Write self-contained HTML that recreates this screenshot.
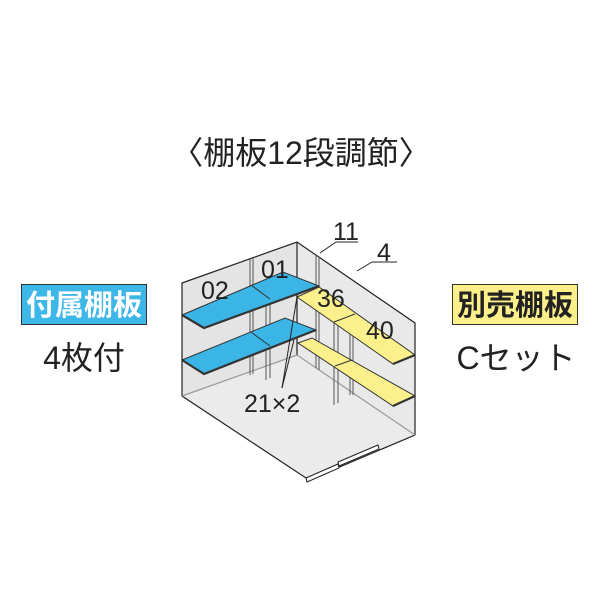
<!DOCTYPE html>
<html><head><meta charset="utf-8"><style>
html,body{margin:0;padding:0;background:#fff;}
body{width:600px;height:600px;position:relative;overflow:hidden;font-family:"Liberation Sans","Noto Sans CJK JP",sans-serif;}
</style></head><body>
<svg width="600" height="600" viewBox="0 0 600 600" xmlns="http://www.w3.org/2000/svg" style="position:absolute;left:0;top:0">
<text x="301" y="164" text-anchor="middle" font-size="32" fill="#222" font-family="Liberation Sans, Noto Sans CJK JP, sans-serif">〈棚板12段調節〉</text>

<rect x="21.5" y="284.5" width="125" height="40" fill="#3db6e8" stroke="#333" stroke-width="1"/>
<text x="84" y="315" text-anchor="middle" font-size="29" fill="#fff" font-weight="bold" font-family="Liberation Sans, Noto Sans CJK JP, sans-serif">付属棚板</text>
<text x="84" y="369" text-anchor="middle" font-size="32" fill="#222" font-family="Liberation Sans, Noto Sans CJK JP, sans-serif">4枚付</text>

<rect x="452.5" y="284.5" width="125" height="40" fill="#fdf08a" stroke="#333" stroke-width="1"/>
<text x="515" y="315" text-anchor="middle" font-size="29" fill="#222" font-weight="bold" font-family="Liberation Sans, Noto Sans CJK JP, sans-serif">別売棚板</text>
<text x="516" y="369" text-anchor="middle" font-size="32" fill="#222" font-family="Liberation Sans, Noto Sans CJK JP, sans-serif">Cセット</text>

<polygon points="182,283 297,242 297,355 182,396" fill="#e4e4e4"/>
<polygon points="297,242 415,323 415,435 297,355" fill="#e9e9e9"/>
<polygon points="182,396 297,355 415,435 309,480" fill="#ebebeb"/>
<g stroke="#222" stroke-width="1.2" fill="none">
<polygon points="182,283 297,242 415,323 415,435 309,480 182,396"/>
<line x1="297" y1="242" x2="297" y2="355"/>
<line x1="297" y1="355" x2="182" y2="396" stroke="#999"/>
<line x1="297" y1="355" x2="415" y2="435" stroke="#999"/>
</g>
<g stroke="#222" stroke-width="1" fill="#fff">
<polygon points="306,478 338,464 339,468 307,482"/>
<polygon points="338,462 378,445 379,449 339,466"/>
</g>
<g stroke="#555" stroke-width="1" fill="none">
<line x1="250" y1="259" x2="250" y2="375"/><line x1="253" y1="258" x2="253" y2="374"/>
<line x1="270" y1="300" x2="270" y2="378"/><line x1="266" y1="300" x2="266" y2="380"/>
<line x1="316" y1="255" x2="316" y2="368"/><line x1="319" y1="257" x2="319" y2="370"/>
<line x1="334" y1="322" x2="334" y2="405"/><line x1="338" y1="322" x2="338" y2="403"/>
<line x1="350" y1="330" x2="350" y2="395"/><line x1="353" y1="332" x2="353" y2="395"/>
</g>
<g stroke="#333" stroke-width="1">
<polygon points="182,315 283,272 319,286 204,328" fill="#3bb5e6"/>
<polyline points="182,315 204,328 319,286" fill="none" stroke-width="2.2"/>
<line x1="251" y1="285" x2="270" y2="299"/>
<polygon points="182,360 285,318 316,330 204,374" fill="#3bb5e6"/>
<polyline points="182,360 204,374 316,330" fill="none" stroke-width="2.2"/>
<line x1="251" y1="332" x2="270" y2="346"/>
<polygon points="297,297 319,287 415,355 393,364" fill="#fbf08c"/>
<polyline points="393,364 415,355" fill="none" stroke-width="2.2"/>
<line x1="334" y1="322" x2="355" y2="314"/>
<polygon points="298,343 312,338 415,396 393,406" fill="#fbf08c"/>
<polyline points="393,406 415,396" fill="none" stroke-width="2.2"/>
<line x1="335" y1="366" x2="352" y2="360"/>
</g>
<g stroke="#222" stroke-width="1" fill="none">
<line x1="282" y1="388" x2="297" y2="297"/>
<line x1="282" y1="388" x2="294" y2="340"/>
<line x1="320" y1="253" x2="336" y2="242"/><line x1="336" y1="242" x2="358" y2="242"/>
<line x1="357" y1="271" x2="372" y2="262"/><line x1="372" y1="262" x2="397" y2="262"/>
</g>
<g font-size="25" fill="#222" font-family="Liberation Sans, sans-serif">
<text x="201" y="299">02</text>
<text x="261" y="278">01</text>
<text x="317" y="307">36</text>
<text x="366" y="339">40</text>
<text x="333" y="240">11</text>
<text x="377" y="261">4</text>
<text x="244" y="412">21×2</text>
</g>
</svg>
</body></html>
